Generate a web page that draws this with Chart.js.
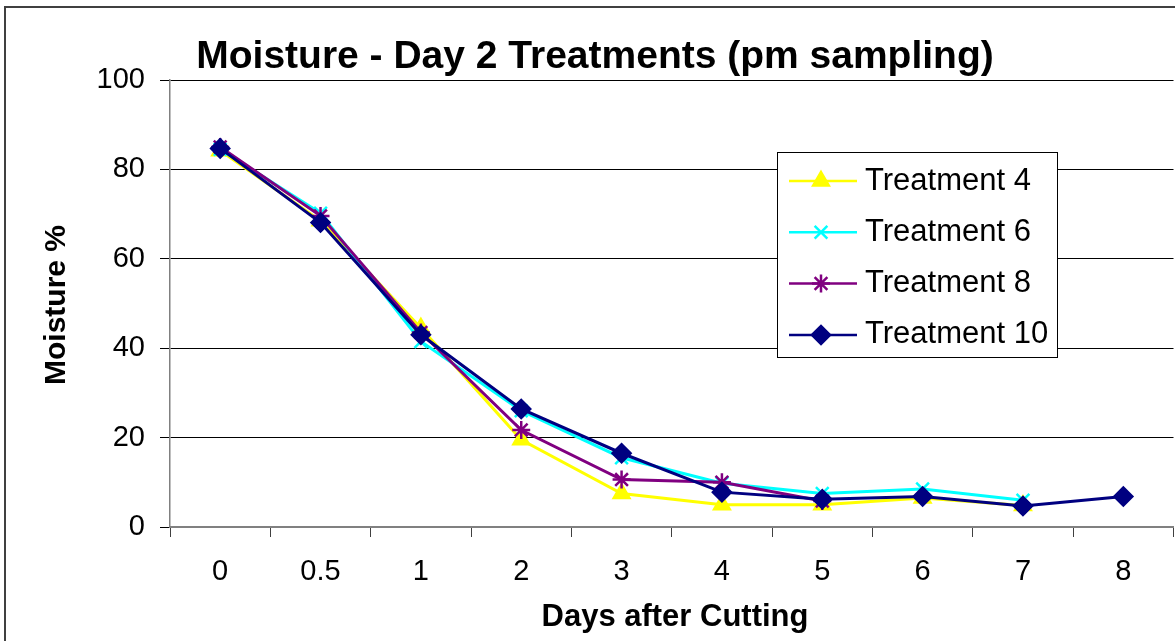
<!DOCTYPE html>
<html>
<head>
<meta charset="utf-8">
<script src="https://cdn.jsdelivr.net/npm/chart.js@4/dist/chart.umd.min.js"></script>
<style>
  html, body { margin: 0; padding: 0; background: #fff; overflow: hidden; }
  #wrap { width: 1175px; height: 641px; overflow: hidden; }
  #wrap div { width: 1185px; height: 641px; }
</style>
</head>
<body>
<div id="wrap"><div><canvas id="moistureChart" width="1185" height="641"></canvas></div></div>
<script>
const days = ['0', '0.5', '1', '2', '3', '4', '5', '6', '7', '8'];
const treatment4 = [84.2, 68.5, 44.5, 19.5, 7.5, 5.0, 5.0, 6.5, 4.8, null];
const treatment6 = [84.5, 70.2, 41.5, 26.0, 15.5, 9.8, 7.5, 8.5, 6.0, null];
const treatment8 = [85.0, 69.6, 43.5, 21.7, 10.6, 10.0, 5.8, null, null, null];
const treatment10 = [84.7, 68.1, 43.0, 26.4, 16.5, 7.8, 6.2, 6.8, 4.7, 6.8];
const yTicks = [0, 20, 40, 60, 80, 100];

const FONT = "'Liberation Sans', Arial, sans-serif";

const series = [
  { label: 'Treatment 4', data: treatment4, color: '#ffff00', style: 'triangle', radius: 9 },
  { label: 'Treatment 6', data: treatment6, color: '#00ffff', style: 'crossRot', radius: 9 },
  { label: 'Treatment 8', data: treatment8, color: '#800080', style: 'star', radius: 9 },
  { label: 'Treatment 10', data: treatment10, color: '#000080', style: 'rectRot', radius: 9 }
];

// frame, titles and legend box like the spreadsheet chart
const decorations = {
  id: 'decorations',
  beforeDraw(chart) {
    const ctx = chart.ctx;
    ctx.save();
    ctx.fillStyle = '#fff';
    ctx.fillRect(0, 0, chart.width, chart.height);
    ctx.strokeStyle = '#404040';
    ctx.lineWidth = 2;
    ctx.strokeRect(5, 7, 1300, 800);
    ctx.restore();
  },
  afterDraw(chart) {
    const ctx = chart.ctx;
    ctx.save();
    ctx.fillStyle = '#000';
    ctx.textAlign = 'center';
    ctx.textBaseline = 'middle';
    ctx.font = "bold 39px " + FONT;
    ctx.fillText('Moisture - Day 2 Treatments (pm sampling)', 595, 57);
    ctx.font = "bold 31px " + FONT;
    ctx.fillText('Days after Cutting', 675, 617);
    ctx.save();
    ctx.translate(57, 305);
    ctx.rotate(-Math.PI / 2);
    ctx.font = "bold 30px " + FONT;
    ctx.fillText('Moisture %', 0, 0);
    ctx.restore();

    // legend
    ctx.fillStyle = '#fff';
    ctx.fillRect(777, 152, 280, 205);
    ctx.strokeStyle = '#000';
    ctx.lineWidth = 1;
    ctx.strokeRect(777.5, 152.5, 280, 205);
    series.forEach((s, i) => {
      const y = 181 + i * 51.3;
      ctx.strokeStyle = s.color;
      ctx.fillStyle = s.color;
      ctx.lineWidth = 2.5;
      ctx.beginPath();
      ctx.moveTo(789, y);
      ctx.lineTo(857, y);
      ctx.stroke();
      Chart.helpers.drawPoint(ctx, { pointStyle: s.style, radius: s.radius, rotation: 0, borderWidth: 2.5 }, 821, y);
      ctx.fillStyle = '#000';
      ctx.textAlign = 'left';
      ctx.font = "31px " + FONT;
      ctx.fillText(s.label, 865, y);
    });
    ctx.restore();
  }
};

new Chart(document.getElementById('moistureChart'), {
  type: 'line',
  data: {
    labels: days,
    datasets: series.map((s, i) => ({
      label: s.label,
      data: s.data,
      borderColor: s.color,
      backgroundColor: s.color,
      pointBorderColor: s.color,
      pointBackgroundColor: s.color,
      borderWidth: 3,
      pointStyle: s.style,
      pointRadius: s.radius,
      pointBorderWidth: 2.5,
      tension: 0,
      spanGaps: false,
      order: series.length - i
    }))
  },
  options: {
    responsive: false,
    animation: false,
    layout: { padding: { top: 80, right: 3, left: 0, bottom: 0 } },
    plugins: {
      legend: { display: false },
      title: { display: false },
      tooltip: { enabled: false }
    },
    scales: {
      x: {
        offset: true,
        grid: { offset: true, drawOnChartArea: false, drawTicks: true, tickLength: 10, color: '#404040' },
        border: { color: '#808080', width: 2 },
        ticks: { color: '#000', font: { family: FONT, size: 29 }, padding: 18, maxRotation: 0 },
        afterFit(scale) { scale.height = 114; }
      },
      y: {
        min: 0,
        max: 100,
        afterBuildTicks(scale) { scale.ticks = yTicks.map(v => ({ value: v })); },
        grid: { color: '#000', lineWidth: 1, tickLength: 10 },
        border: { color: '#808080', width: 1.5 },
        ticks: { color: '#000', font: { family: FONT, size: 29 }, padding: 15 },
        afterFit(scale) { scale.width = 170; }
      }
    }
  },
  plugins: [decorations]
});
</script>
</body>
</html>
